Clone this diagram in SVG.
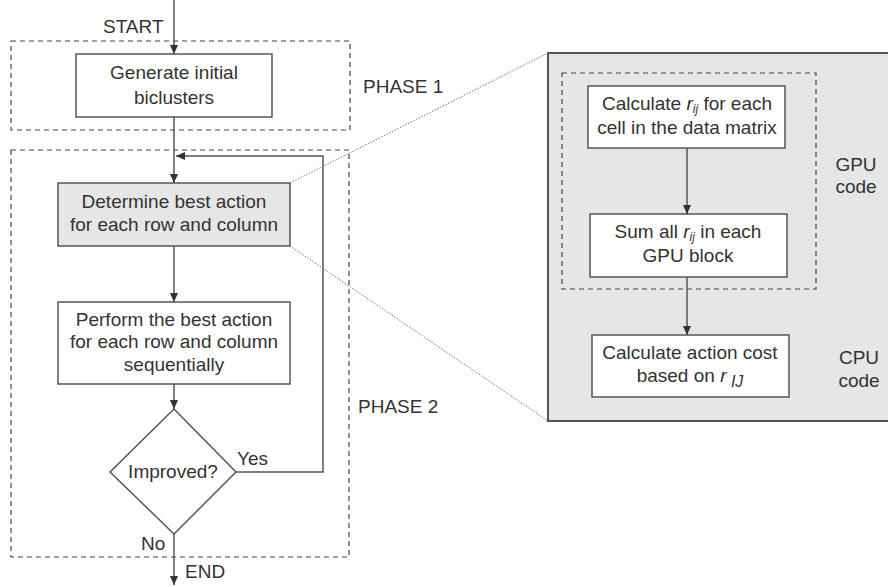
<svg xmlns="http://www.w3.org/2000/svg" width="888" height="587" viewBox="0 0 888 587">
<defs>
<style>
text{font-family:"Liberation Sans",Arial,sans-serif;font-size:19px;fill:#333;}
.c{text-anchor:middle;}
.box{fill:#fff;stroke:#555;stroke-width:1.5;}
.gbox{fill:#e6e6e6;stroke:#555;stroke-width:1.5;}
.dash{fill:none;stroke:#444;stroke-width:1.2;stroke-dasharray:5,4;}
.ln{fill:none;stroke:#555;stroke-width:1.5;}
.dot{fill:none;stroke:#777;stroke-width:1;stroke-dasharray:1.5,1.5;}
.it{font-style:italic;}
</style>
<marker id="ah" markerWidth="10" markerHeight="8" refX="9" refY="4" orient="auto" markerUnits="userSpaceOnUse">
<path d="M0,0 L9,4 L0,8 Z" fill="#333"/>
</marker>
</defs>
<rect width="888" height="587" fill="#fff"/>

<g id="phase1">
<rect class="dash" x="11" y="41" width="339" height="89"/>
<text x="363" y="93">PHASE 1</text>
</g>
<g id="phase2">
<rect class="dash" x="11" y="150" width="338" height="407"/>
<text x="358" y="413">PHASE 2</text>
</g>

<g id="zoom-panel">
<rect x="548" y="53" width="345" height="368" fill="#e6e6e6" stroke="#555" stroke-width="2"/>
</g>
<g id="gpu-group">
<rect class="dash" x="562" y="73" width="254" height="216"/>
<text class="c" x="856" y="171">GPU</text>
<text class="c" x="856" y="193">code</text>
</g>
<g id="cpu-label">
<text class="c" x="859" y="364">CPU</text>
<text class="c" x="859" y="387">code</text>
</g>

<g id="start-label"><text x="103" y="33">START</text></g>
<g id="end-label"><text x="185" y="578">END</text></g>

<g id="generate">
<rect class="box" x="76" y="54" width="196" height="63"/>
<text class="c" x="174" y="79">Generate initial</text>
<text class="c" x="174" y="104">biclusters</text>
</g>
<g id="determine">
<rect class="gbox" x="58" y="183" width="232" height="63"/>
<text class="c" x="174" y="208">Determine best action</text>
<text class="c" x="174" y="231">for each row and column</text>
</g>
<g id="perform">
<rect class="box" x="58" y="302" width="232" height="82"/>
<text class="c" x="174" y="326">Perform the best action</text>
<text class="c" x="174" y="348">for each row and column</text>
<text class="c" x="174" y="371">sequentially</text>
</g>
<g id="improved">
<polygon class="box" points="174,409 236,472 174,534 110,472"/>
<text class="c" x="173" y="478">Improved?</text>
</g>
<g id="calc-rij">
<rect class="box" x="588" y="86" width="197" height="62"/>
<text class="c" x="687" y="110">Calculate <tspan class="it">r</tspan><tspan class="it" font-size="12" dy="3">ij</tspan><tspan dy="-3">  for each</tspan></text>
<text class="c" x="687" y="134">cell in the data matrix</text>
</g>
<g id="sum-rij">
<rect class="box" x="590" y="214" width="197" height="63"/>
<text class="c" x="688" y="238">Sum all <tspan class="it">r</tspan><tspan class="it" font-size="12" dy="3">ij</tspan><tspan dy="-3">  in each</tspan></text>
<text class="c" x="688" y="262">GPU block</text>
</g>
<g id="calc-cost">
<rect class="box" x="592" y="335" width="197" height="62"/>
<text class="c" x="690" y="359">Calculate action cost</text>
<text class="c" x="690" y="382">based on <tspan class="it">r</tspan><tspan class="it" font-size="16" dy="5"> IJ</tspan></text>
</g>

<g id="connectors">
<line class="ln" x1="174" y1="0" x2="174" y2="54" marker-end="url(#ah)"/>
<line class="ln" x1="174" y1="117" x2="174" y2="183" marker-end="url(#ah)"/>
<polyline class="ln" points="236,472 323,472 323,156 176,156" marker-end="url(#ah)"/>
<line class="ln" x1="174" y1="246" x2="174" y2="302" marker-end="url(#ah)"/>
<line class="ln" x1="174" y1="384" x2="174" y2="409" marker-end="url(#ah)"/>
<line class="ln" x1="174" y1="534" x2="174" y2="585" marker-end="url(#ah)"/>
<line class="ln" x1="687" y1="148" x2="687" y2="214" marker-end="url(#ah)"/>
<line class="ln" x1="687" y1="277" x2="687" y2="335" marker-end="url(#ah)"/>
<line class="dot" x1="290" y1="183" x2="548" y2="53"/>
<line class="dot" x1="290" y1="246" x2="548" y2="421"/>
<text x="237" y="465">Yes</text>
<text x="141" y="550">No</text>
</g>
</svg>
